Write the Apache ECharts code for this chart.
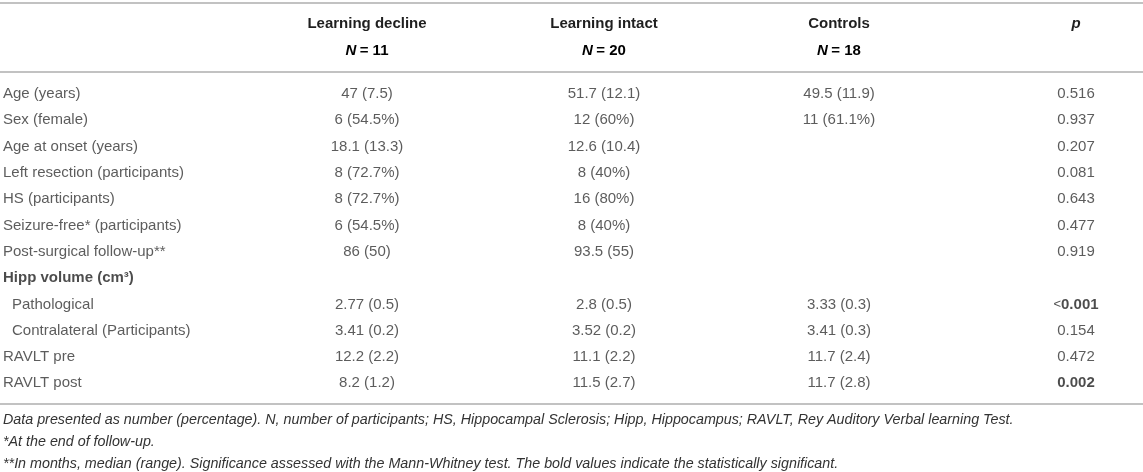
<!DOCTYPE html>
<html>
<head>
<meta charset="utf-8">
<script src="https://cdn.jsdelivr.net/npm/echarts@6/dist/echarts.min.js"></script>
<style>
  html, body { margin: 0; padding: 0; background: #fff; }
  #main { width: 1143px; height: 472px; }
</style>
</head>
<body>
<div id="main"></div>
<script>
// table content
const rowLabels = ['Age (years)', 'Sex (female)', 'Age at onset (years)', 'Left resection (participants)',
  'HS (participants)', 'Seizure-free* (participants)', 'Post-surgical follow-up**', 'Hipp volume (cm³)',
  'Pathological', 'Contralateral (Participants)', 'RAVLT pre', 'RAVLT post'];
const declineVals = ['47 (7.5)', '6 (54.5%)', '18.1 (13.3)', '8 (72.7%)', '8 (72.7%)', '6 (54.5%)',
  '86 (50)', '', '2.77 (0.5)', '3.41 (0.2)', '12.2 (2.2)', '8.2 (1.2)'];
const intactVals = ['51.7 (12.1)', '12 (60%)', '12.6 (10.4)', '8 (40%)', '16 (80%)', '8 (40%)',
  '93.5 (55)', '', '2.8 (0.5)', '3.52 (0.2)', '11.1 (2.2)', '11.5 (2.7)'];
const controlVals = ['49.5 (11.9)', '11 (61.1%)', '', '', '', '', '', '', '3.33 (0.3)', '3.41 (0.3)',
  '11.7 (2.4)', '11.7 (2.8)'];
const pVals = ['0.516', '0.937', '0.207', '0.081', '0.643', '0.477', '0.919', '', '<0.001', '0.154',
  '0.472', '0.002'];
const groupNames = ['Learning decline', 'Learning intact', 'Controls'];
const groupN = [11, 20, 18];
const boldP = ['<0.001', '0.002'];
const sectionRows = [7];
const subRows = [8, 9];
const footnotes = [
  'Data presented as number (percentage). N, number of participants; HS, Hippocampal Sclerosis; Hipp, Hippocampus; RAVLT, Rey Auditory Verbal learning Test.',
  '*At the end of follow-up.',
  '**In months, median (range). Significance assessed with the Mann-Whitney test. The bold values indicate the statistically significant.'
];

// layout
const W = 1143;
const FONT = '"Liberation Sans", Arial, Helvetica, sans-serif';
const TXT = '#333';
const BOLD_TXT = '#1f1f1f';
const RULE = '#c2c2c2';
const labelX = 3, indent = 9;
const colX = [367, 604, 839, 1076];
const firstRowY = 94, rowStep = 26.3;
const bodyTop = firstRowY - rowStep / 2;
const bodyH = rowStep * rowLabels.length;

var myChart = echarts.init(document.getElementById('main'), null, { renderer: 'canvas' });

const baseLabel = { show: true, position: 'inside', color: TXT, fontFamily: FONT, fontSize: 15 };
const boldLabel = { fontWeight: 'bold', color: BOLD_TXT };
const pRich = {
  lt: { fontFamily: FONT, fontSize: 13, color: BOLD_TXT },
  b: { fontFamily: FONT, fontSize: 15, fontWeight: 'bold', color: BOLD_TXT }
};

// "<0.001" keeps a lighter, smaller "<" like the source
function pText(v) {
  if (boldP.indexOf(v) < 0) return v;
  return v.charAt(0) === '<' ? '{lt|<}{b|' + v.slice(1) + '}' : '{b|' + v + '}';
}

function colSeries(vals, x, isP) {
  return {
    type: 'scatter',
    symbolSize: 0,
    silent: true,
    data: vals.map((v, i) => ({ value: [x, i, v] })).filter(d => d.value[2] !== ''),
    label: Object.assign({}, baseLabel, {
      align: 'center',
      rich: pRich,
      formatter: p => isP ? pText(p.value[2]) : p.value[2]
    })
  };
}

const labelSeries = {
  type: 'scatter',
  symbolSize: 0,
  silent: true,
  data: rowLabels.map((r, i) => ({
    value: [subRows.indexOf(i) >= 0 ? labelX + indent : labelX, i, r],
    label: sectionRows.indexOf(i) >= 0 ? boldLabel : {}
  })),
  label: Object.assign({}, baseLabel, { align: 'left', formatter: p => p.value[2] })
};

const headerRich = {
  b: { fontFamily: FONT, fontSize: 15, fontWeight: 'bold', color: BOLD_TXT },
  bi: { fontFamily: FONT, fontSize: 15, fontWeight: 'bold', fontStyle: 'italic', color: BOLD_TXT }
};

function rule(y) {
  return { type: 'line', shape: { x1: 0, y1: y, x2: W, y2: y }, style: { stroke: RULE, lineWidth: 2 } };
}

const graphics = [rule(3), rule(72), rule(404)];
groupNames.forEach((g, i) => {
  graphics.push({ type: 'text', x: colX[i], y: 24, style: { text: g, fill: BOLD_TXT, font: 'bold 15px ' + FONT, textAlign: 'center', textVerticalAlign: 'middle' } });
  graphics.push({ type: 'text', x: colX[i], y: 51, style: { text: '{bi|N} {b|= ' + groupN[i] + '}', rich: headerRich, textAlign: 'center', textVerticalAlign: 'middle' } });
});
graphics.push({ type: 'text', x: colX[3], y: 24, style: { text: 'p', fill: BOLD_TXT, font: 'italic bold 15px ' + FONT, textAlign: 'center', textVerticalAlign: 'middle' } });
footnotes.forEach((f, i) => {
  graphics.push({ type: 'text', x: labelX, y: 420 + i * 22, style: { text: f, fill: TXT, font: 'italic 14.3px ' + FONT, textAlign: 'left', textVerticalAlign: 'middle' } });
});

const option = {
  animation: false,
  grid: { left: 0, right: 0, top: bodyTop, height: bodyH },
  xAxis: { type: 'value', min: 0, max: W, show: false },
  yAxis: { type: 'category', inverse: true, data: rowLabels, show: false },
  graphic: graphics,
  series: [
    labelSeries,
    colSeries(declineVals, colX[0]),
    colSeries(intactVals, colX[1]),
    colSeries(controlVals, colX[2]),
    colSeries(pVals, colX[3], true)
  ]
};
myChart.setOption(option);
</script>
</body>
</html>
